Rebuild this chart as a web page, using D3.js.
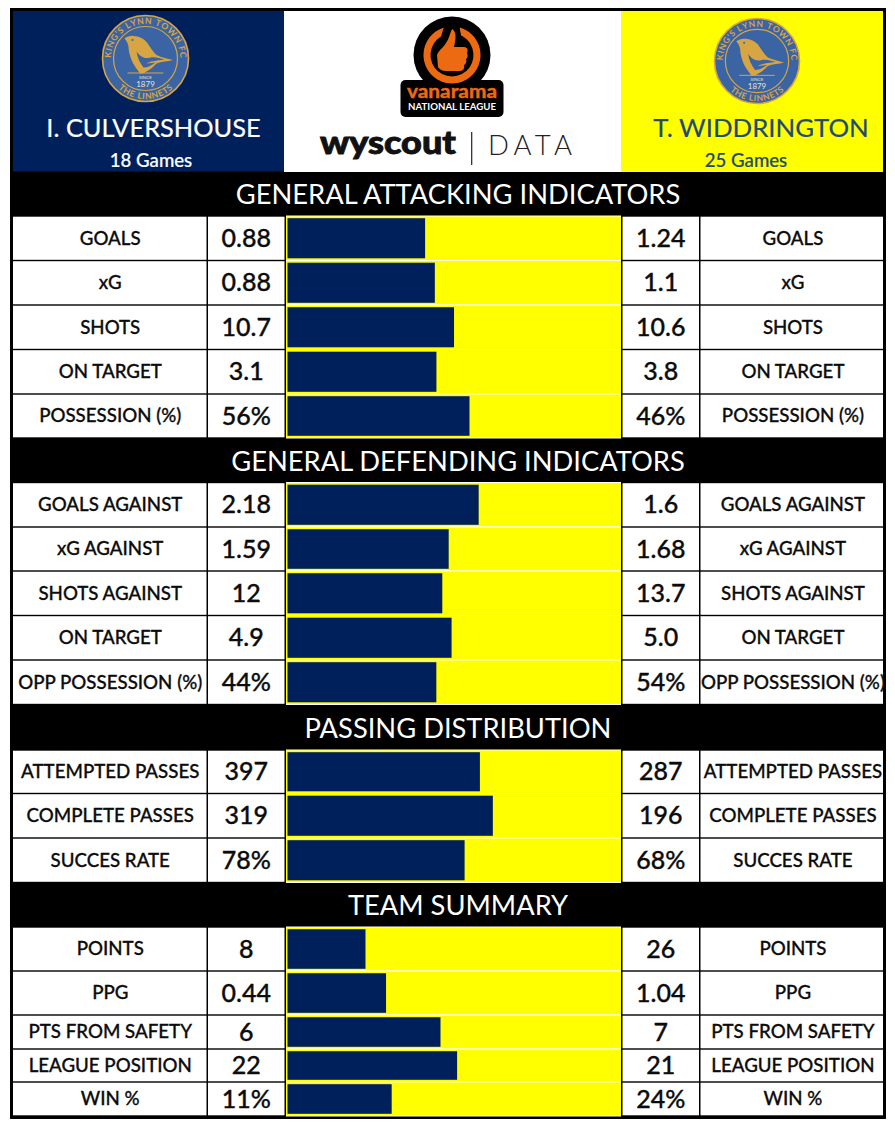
<!DOCTYPE html>
<html>
<head>
<meta charset="utf-8">
<script src="https://cdn.jsdelivr.net/npm/d3@7/dist/d3.min.js"></script>
<style>
html,body{margin:0;padding:0;background:#fff}
svg{display:block}
text{font-family:Lato,"Open Sans",sans-serif}
</style>
</head>
<body>
<svg id="chart"></svg>
<script>
// ---------- data ----------
const leftName = "I. CULVERSHOUSE";
const rightName = "T. WIDDRINGTON";
const leftGames = "18 Games";
const rightGames = "25 Games";
const sectionTitles = ["GENERAL ATTACKING INDICATORS","GENERAL DEFENDING INDICATORS","PASSING DISTRIBUTION","TEAM SUMMARY"];
const rowLabels = [
  ["GOALS","xG","SHOTS","ON TARGET","POSSESSION (%)"],
  ["GOALS AGAINST","xG AGAINST","SHOTS AGAINST","ON TARGET","OPP POSSESSION (%)"],
  ["ATTEMPTED PASSES","COMPLETE PASSES","SUCCES RATE"],
  ["POINTS","PPG","PTS FROM SAFETY","LEAGUE POSITION","WIN %"]
];
const leftValues = [
  ["0.88","0.88","10.7","3.1","56%"],
  ["2.18","1.59","12","4.9","44%"],
  ["397","319","78%"],
  ["8","0.44","6","22","11%"]
];
const rightValues = [
  ["1.24","1.1","10.6","3.8","46%"],
  ["1.6","1.68","13.7","5.0","54%"],
  ["287","196","68%"],
  ["26","1.04","7","21","24%"]
];

// ---------- layout ----------
const W = 895, H = 1125;
const NAVY = "#00205c", YEL = "#ffff00", CREST = "#3a64a4", GOLD = "#d8a544", RNAME = "#1f4a78";
const frame = {x0:10, y0:8, x1:886, y1:1119};
const cols = {lab1:[13,206.5], val1:[208,284.5], bar:[286,621], val2:[622.5,699], lab2:[700.5,883]};
const sectionEdges = [
  [172,216,[216,260.5,305,349.5,394,438]],
  [438.5,482.5,[482.5,527,571,615.5,660,704.5]],
  [705,750,[750,793.5,838,882.5]],
  [883,927,[927,971,1015,1049,1082,1116]]
];

const svg = d3.select("#chart").attr("width",W).attr("height",H).attr("viewBox",[0,0,W,H]);

// frame
svg.append("rect").attr("x",frame.x0).attr("y",frame.y0).attr("width",frame.x1-frame.x0).attr("height",frame.y1-frame.y0).attr("fill","#000");

// header panels
svg.append("rect").attr("x",13).attr("y",11).attr("width",271).attr("height",160.5).attr("fill",NAVY);
svg.append("rect").attr("x",284).attr("y",11).attr("width",337).attr("height",161).attr("fill","#fff");
svg.append("rect").attr("x",621).attr("y",11).attr("width",262).attr("height",161).attr("fill",YEL);

// flatten
const rows = [];
sectionTitles.forEach((t,s)=>{
  rowLabels[s].forEach((lab,i)=>{
    const e = sectionEdges[s][2];
    rows.push({s,i,label:lab,lt:leftValues[s][i],rt:rightValues[s][i],
      l:parseFloat(leftValues[s][i]),r:parseFloat(rightValues[s][i]),y0:e[i],y1:e[i+1]});
  });
});

// share scale + stack
const x = d3.scaleLinear().domain([0,1]).range([287.5,619]);
const stacked = d3.stack().keys(["l","r"]).offset(d3.stackOffsetExpand)(rows);

// section headers
const heads = svg.append("g");
sectionTitles.forEach((t,s)=>{
  const y0 = sectionEdges[s][0], y1 = sectionEdges[s][1];
  heads.append("text").attr("x",458).attr("y",(y0+y1)/2+10)
    .attr("text-anchor","middle").attr("fill","#fff").attr("font-size",27.3).text(t);
});

// cells
const row = svg.append("g").selectAll("g").data(rows).join("g");
const cell = (k,fill) => row.append("rect").attr("x",cols[k][0]).attr("width",cols[k][1]-cols[k][0])
  .attr("y",d=>d.y0+0.7).attr("height",d=>d.y1-d.y0-1.4).attr("fill",fill);
["lab1","val1","val2","lab2"].forEach(k=>cell(k,"#fff"));
row.append("rect").attr("x",cols.bar[0]).attr("width",cols.bar[1]-cols.bar[0])
  .attr("y",d=>d.y0-0.5).attr("height",d=>d.y1-d.y0+1).attr("fill","#fffff0");
row.append("rect").attr("x",cols.bar[0]).attr("width",cols.bar[1]-cols.bar[0])
  .attr("y",d=>d.y0+0.5).attr("height",d=>d.y1-d.y0-1).attr("fill",YEL);

// navy bars from the stack
svg.append("g").selectAll("rect").data(stacked[0]).join("rect")
  .attr("x",d=>x(d[0])).attr("width",d=>x(d[1])-x(d[0]))
  .attr("y",d=>d.data.y0+2.2).attr("height",d=>d.data.y1-d.data.y0-4.4)
  .attr("fill",NAVY);

// cell text
const ct = (k,acc,size,dy,dx,sw) => row.append("text")
  .attr("x",(cols[k][0]+cols[k][1])/2+dx)
  .attr("y",d=>(d.y0+d.y1)/2+dy)
  .attr("text-anchor","middle").attr("fill","#0c0c0c").attr("stroke","#0c0c0c").attr("stroke-width",sw)
  .attr("font-size",size).attr("font-weight",500)
  .text(acc);
ct("lab1",d=>d.label,18.7,6.4,0.5,0.3);
ct("lab2",d=>d.label,18.7,6.4,1.2,0.3);
ct("val1",d=>d.lt,25,8.6,0,0.35);
ct("val2",d=>d.rt,25,8.6,0,0.35);

// names
svg.append("text").attr("x",153.5).attr("y",136.5).attr("text-anchor","middle").attr("fill","#fff").attr("font-size",25.4).attr("stroke","#fff").attr("stroke-width",0.2).text(leftName);
svg.append("text").attr("x",151).attr("y",167).attr("text-anchor","middle").attr("fill","#fff").attr("font-size",18.6).attr("font-weight",500).attr("stroke","#fff").attr("stroke-width",0.2).text(leftGames);
svg.append("text").attr("x",761).attr("y",136.5).attr("text-anchor","middle").attr("fill",RNAME).attr("font-size",25.8).attr("stroke",RNAME).attr("stroke-width",0.2).text(rightName);
svg.append("text").attr("x",746).attr("y",167).attr("text-anchor","middle").attr("fill",RNAME).attr("font-size",18.6).attr("font-weight",500).attr("stroke",RNAME).attr("stroke-width",0.2).text(rightGames);

// crest: letters are placed one by one round the rings, spaced by their measured widths
function arcText(g,str,radius,gap,bottom){
  const chars = Array.from(str);
  const placed = chars.map(c => c === " " ? null : g.append("text").attr("text-anchor","middle")
      .attr("font-size",8.6).attr("font-weight",700).attr("fill",GOLD).text(c));
  const widths = placed.map(n => (n ? n.node().getComputedTextLength() : 2.4) + gap);
  const deg = 180/Math.PI/radius;
  let run = -d3.sum(widths)/2;
  placed.forEach((n,i)=>{
    const a = (run + widths[i]/2)*deg;
    run += widths[i];
    if (n) n.attr("transform", bottom ? `rotate(${-a}) translate(0,${radius})` : `rotate(${a}) translate(0,${-radius})`);
  });
}
function crest(cx,cy,r){
  const k = r/44;
  const g = svg.append("g").attr("transform",`translate(${cx},${cy}) scale(${k})`);
  g.append("circle").attr("r",43).attr("fill",CREST).attr("stroke",GOLD).attr("stroke-width",1.6);
  g.append("circle").attr("r",32).attr("fill","none").attr("stroke",GOLD).attr("stroke-width",1.2);
  arcText(g,"KING'S LYNN TOWN FC",34.6,0.6,false);
  arcText(g,"THE LINNETS",40.6,0.6,true);
  g.append("path").attr("fill",GOLD).attr("d","M-21,-20 C-18,-22 -15,-23 -12,-22.5 C-5,-22 -1,-19 1.5,-16 C5,-11 8,-6 11,-3.5 C16,-1 22,0 27.5,1.5 C22,3 16,3 11,5 C8,8 5,11 1,13 C-2,15 -4,15 -5.5,15 C-8,11 -12,7 -14,1.5 C-16,-4 -17,-8 -17,-12 C-17.5,-15 -19,-18 -21,-20 Z");
  g.append("path").attr("fill",CREST).attr("d","M-9,-7 C-6,-3 -2,1 5,-1 C10,-2 14,0 19,1 C10,2 4,3 1,5 C5,5 8,4 10,4 C6,7 2,9 -2,9 C-6,4 -8,-1 -9,-7 Z");
  g.append("circle").attr("cx",-13).attr("cy",-18.5).attr("r",1).attr("fill",CREST);
  g.append("line").attr("x1",-18).attr("x2",18).attr("y1",14.5).attr("y2",14.5).attr("stroke",GOLD).attr("stroke-width",1);
  g.append("text").attr("y",20).attr("text-anchor","middle").attr("font-size",4.6).attr("fill","#e8e4d0").text("SINCE");
  g.append("text").attr("y",28).attr("text-anchor","middle").attr("font-size",8).attr("fill","#e8e4d0").text("1879");
}
crest(145.5,58.5,44);
crest(757,61,43.5);

// league logo
const lg = svg.append("g");
lg.append("circle").attr("cx",452).attr("cy",55).attr("r",38.5).attr("fill","#000");
lg.append("rect").attr("x",400.5).attr("y",80).attr("width",103).attr("height",37).attr("rx",5).attr("fill","#000");
const arc = d3.arc().innerRadius(21.5).outerRadius(28.5);
lg.append("path").attr("transform","translate(452,55)").attr("fill","#ec6a12")
  .attr("d",arc({startAngle:0.28,endAngle:2*Math.PI-0.28}));
lg.append("path").attr("fill","#000").attr("d","M446,20 L458,20 L462,40 L440,40 Z");
lg.append("path").attr("fill","#ec6a12").attr("d","M452,29 C456,31 456,37 455,42 L454,47 L464,47 C468,47 468,51 467,53 C468,55 468,58 466,59 C467,62 466,64 464,65 C465,68 463,71 460,71 L446,71 C442,71 439,69 438,67 L437,55 C439,50 443,48 446,43 C449,39 450,33 452,29 Z");
lg.append("text").attr("x",452).attr("y",97.5).attr("text-anchor","middle").attr("fill","#ec6a12")
  .attr("font-size",18).attr("font-weight",700).attr("stroke","#ec6a12").attr("stroke-width",0.4)
  .attr("textLength",90).attr("lengthAdjust","spacingAndGlyphs").text("vanarama");
lg.append("text").attr("x",452).attr("y",110).attr("text-anchor","middle").attr("fill","#fff")
  .attr("font-size",8.5).attr("font-weight",700).attr("textLength",88).attr("lengthAdjust","spacingAndGlyphs").text("NATIONAL LEAGUE");

// wyscout | DATA
svg.append("text").attr("x",320).attr("y",153.5).attr("font-size",33).attr("font-weight",900).attr("fill","#111")
  .attr("textLength",136).attr("lengthAdjust","spacingAndGlyphs").attr("stroke","#111").attr("stroke-width",0.9).text("wyscout");
svg.append("line").attr("x1",471.7).attr("x2",471.7).attr("y1",132).attr("y2",165).attr("stroke","#222").attr("stroke-width",1.2);
svg.append("text").attr("x",488).attr("y",155).attr("font-size",27.5).attr("font-weight",300).attr("fill","#222")
  .attr("textLength",84).text("DATA");
</script>
</body>
</html>
